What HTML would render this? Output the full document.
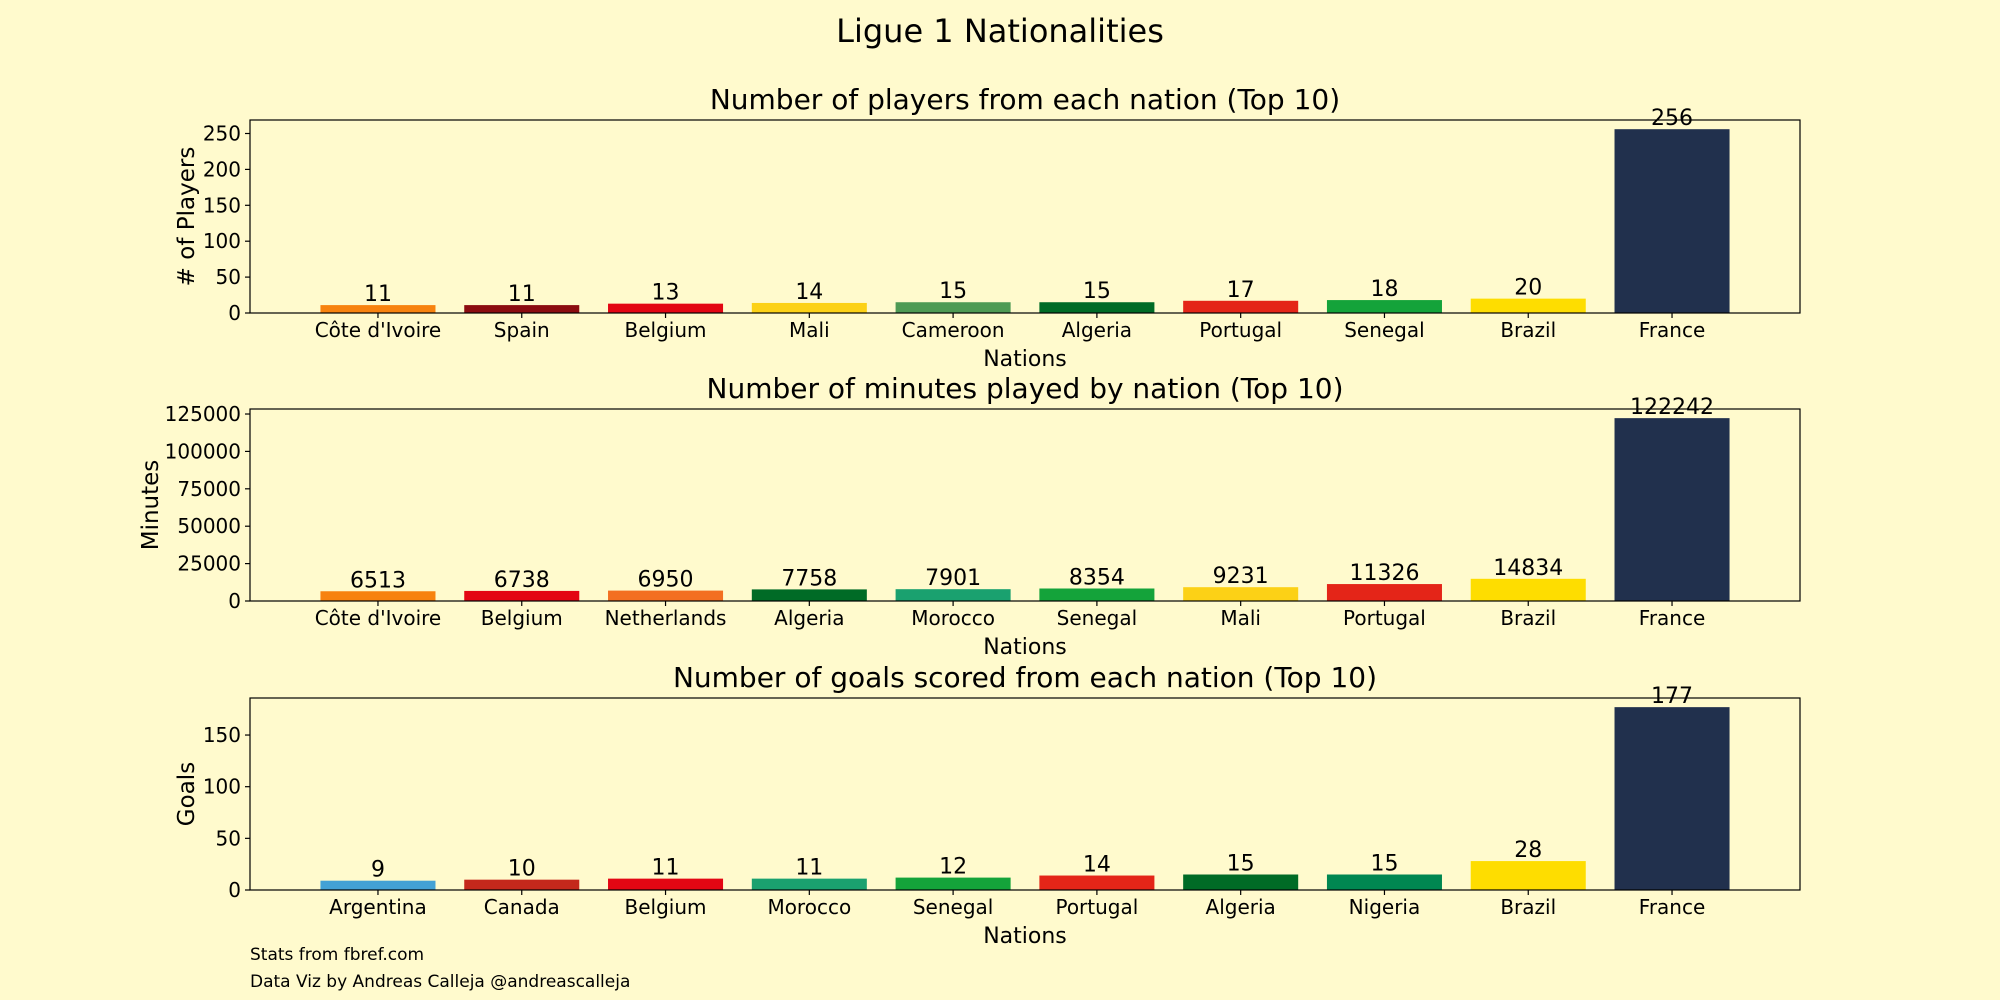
<!DOCTYPE html>
<html><head><meta charset="utf-8">
<style>
html,body{margin:0;padding:0;background:#fffacd;}
svg{display:block;font-family:"DejaVu Sans","Liberation Sans",sans-serif;}
</style></head>
<body>
<svg id="chart" width="2000" height="1000" viewBox="0 0 2000 1000">
<rect x="0" y="0" width="2000" height="1000" fill="#fffacd"/>
<text x="1000" y="42" text-anchor="middle" font-size="32" fill="#000">Ligue 1 Nationalities</text>
<text x="250" y="960" font-size="17" fill="#000">Stats from fbref.com</text>
<text x="250" y="987" font-size="17" fill="#000">Data Viz by Andreas Calleja @andreascalleja</text>
</svg>
<script>
const playersCats = ["Côte d'Ivoire","Spain","Belgium","Mali","Cameroon","Algeria","Portugal","Senegal","Brazil","France"];
const playersVals = [11,11,13,14,15,15,17,18,20,256];
const playersTicks = [0,50,100,150,200,250];
const playersColors = ["#f7820f","#8b0c10","#e30613","#fcd116","#4e9a54","#006b26","#e42518","#14a33a","#fedd00","#21304d"];

const minutesCats = ["Côte d'Ivoire","Belgium","Netherlands","Algeria","Morocco","Senegal","Mali","Portugal","Brazil","France"];
const minutesVals = [6513,6738,6950,7758,7901,8354,9231,11326,14834,122242];
const minutesTicks = [0,25000,50000,75000,100000,125000];
const minutesColors = ["#f7820f","#e30613","#f36f21","#006b26","#1aa16f","#14a33a","#fcd116","#e42518","#fedd00","#21304d"];

const goalsCats = ["Argentina","Canada","Belgium","Morocco","Senegal","Portugal","Algeria","Nigeria","Brazil","France"];
const goalsVals = [9,10,11,11,12,14,15,15,28,177];
const goalsTicks = [0,50,100,150];
const goalsColors = ["#43a1d5","#c4281c","#e30613","#1aa16f","#14a33a","#e42518","#006b26","#008751","#fedd00","#21304d"];

const NS = "http://www.w3.org/2000/svg";
const svg = document.getElementById('chart');
function mk(tag, attrs, parent){
  const e = document.createElementNS(NS, tag);
  for (const k in attrs) e.setAttribute(k, attrs[k]);
  (parent||svg).appendChild(e);
  return e;
}
const L = 250, R = 1800;
function panel(name, top, bottom, title, ylabel, ylabelX, cats, vals, ticks, colors){
  const g = mk('g', {});
  
  
  const ymax = Math.max(...vals) * 1.05;
  const xmin = -0.89, xmax = cats.length - 1 + 0.89;
  const xs = v => L + (v - xmin) / (xmax - xmin) * (R - L);
  const ys = v => bottom - v / ymax * (bottom - top);
  const bw = xs(0.4) - xs(-0.4);
  const t = mk('text', {x:(L+R)/2, y: top - 11, 'text-anchor':'middle', 'font-size':28}, g);
  t.textContent = title;
  
  
  cats.forEach((c, i) => {
    const r = mk('rect', {x: xs(i) - bw/2, y: ys(vals[i]), width: bw, height: bottom - ys(vals[i]), fill: colors[i]}, g);
    
    
    const lbl = mk('text', {x: xs(i), y: ys(vals[i]) - 4, 'text-anchor':'middle', 'font-size':22}, g);
    lbl.textContent = vals[i];
    
    
    mk('line', {x1: xs(i), x2: xs(i), y1: bottom, y2: bottom + 5, stroke:'#000', 'stroke-width':1.2}, g);
    const tl = mk('text', {x: xs(i), y: bottom + 24, 'text-anchor':'middle', 'font-size':20}, g);
    tl.textContent = c;
    
    
  });
  ticks.forEach(tv => {
    mk('line', {x1: L - 5, x2: L, y1: ys(tv), y2: ys(tv), stroke:'#000', 'stroke-width':1.2}, g);
    const tl = mk('text', {x: L - 9, y: ys(tv) + 7, 'text-anchor':'end', 'font-size':20}, g);
    tl.textContent = tv;
    
    
  });
  const frame = mk('rect', {x: L, y: top, width: R - L, height: bottom - top, fill:'none', stroke:'#000', 'stroke-width':1.2}, g);
  
  
  const xl = mk('text', {x:(L+R)/2, y: bottom + 53, 'text-anchor':'middle', 'font-size':22}, g);
  xl.textContent = 'Nations';
  
  
  const cy = (top + bottom) / 2;
  const yl = mk('text', {x: ylabelX, y: cy, 'text-anchor':'middle', 'font-size':23, transform:'rotate(-90 ' + ylabelX + ' ' + cy + ')'}, g);
  yl.textContent = ylabel;
  
  
}
panel('players', 120, 313, 'Number of players from each nation (Top 10)', '# of Players', 194, playersCats, playersVals, playersTicks, playersColors);
panel('minutes', 409, 601, 'Number of minutes played by nation (Top 10)', 'Minutes', 158, minutesCats, minutesVals, minutesTicks, minutesColors);
panel('goals', 698, 890, 'Number of goals scored from each nation (Top 10)', 'Goals', 194, goalsCats, goalsVals, goalsTicks, goalsColors);
</script>
</body></html>
